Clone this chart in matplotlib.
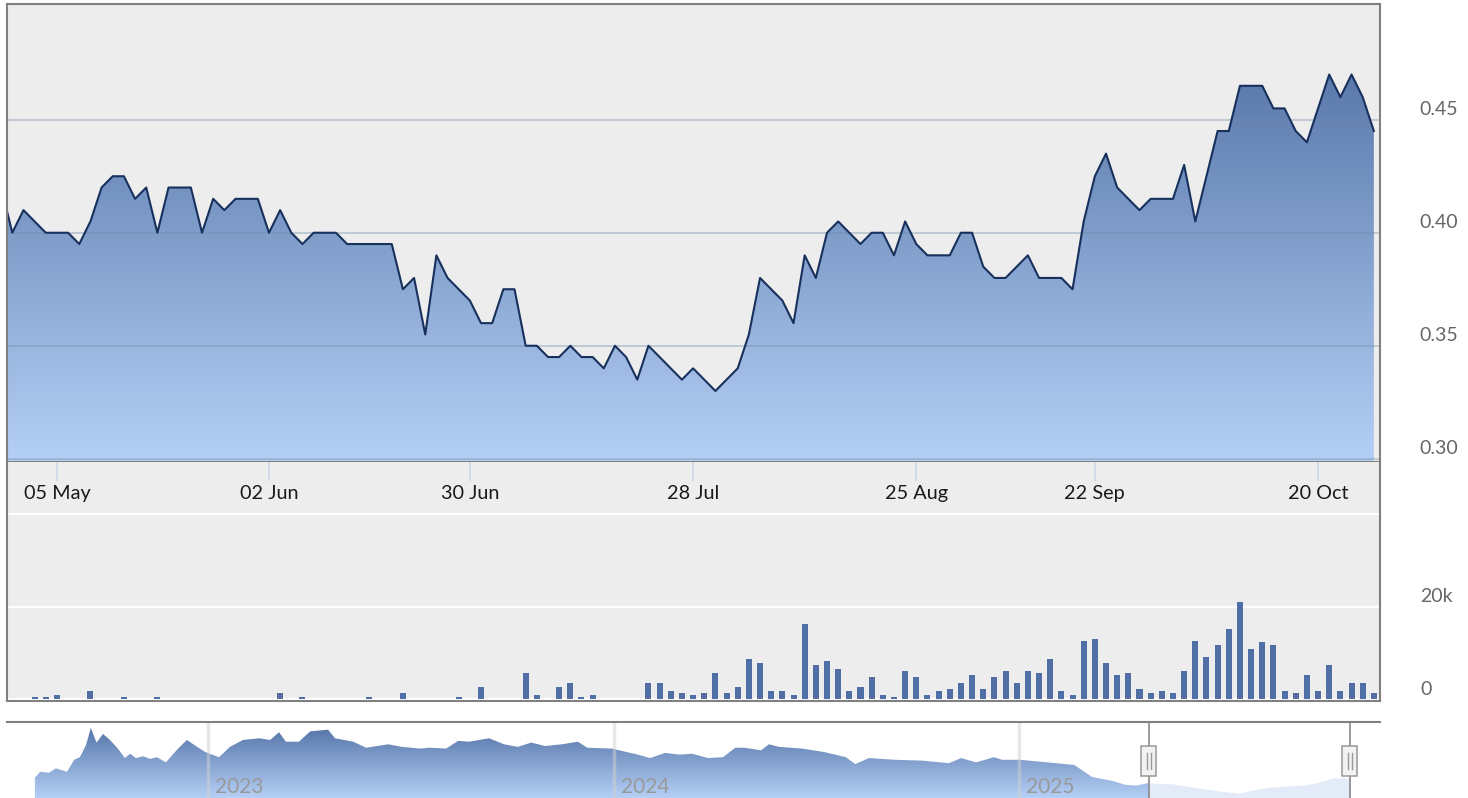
"""
Stock chart re-draw: price area (ordinal trading-day axis) + volume bars + navigator strip.
"""
import numpy as np
import matplotlib
matplotlib.use("Agg")
import matplotlib.pyplot as plt
from matplotlib.colors import LinearSegmentedColormap
from matplotlib.patches import PathPatch, Rectangle
from matplotlib.path import Path
from matplotlib.transforms import blended_transform_factory, offset_copy

plt.rcParams["font.family"] = ["Lato", "DejaVu Sans"]

W, H, DPI = 1468, 798, 100

# ── price, one value per trading day; first value sits just left of the visible range ──
price = [0.42,
         0.40, 0.41, 0.405, 0.40, 0.40, 0.40, 0.395, 0.405, 0.42, 0.425,
         0.425, 0.415, 0.42, 0.40, 0.42, 0.42, 0.42, 0.40, 0.415, 0.41,
         0.415, 0.415, 0.415, 0.40, 0.41, 0.40, 0.395, 0.40, 0.40, 0.40,
         0.395, 0.395, 0.395, 0.395, 0.395, 0.375, 0.38, 0.355, 0.39, 0.38,
         0.375, 0.37, 0.36, 0.36, 0.375, 0.375, 0.35, 0.35, 0.345, 0.345,
         0.35, 0.345, 0.345, 0.34, 0.35, 0.345, 0.335, 0.35, 0.345, 0.34,
         0.335, 0.34, 0.335, 0.33, 0.335, 0.34, 0.355, 0.38, 0.375, 0.37,
         0.36, 0.39, 0.38, 0.40, 0.405, 0.40, 0.395, 0.40, 0.40, 0.39,
         0.405, 0.395, 0.39, 0.39, 0.39, 0.40, 0.40, 0.385, 0.38, 0.38,
         0.385, 0.39, 0.38, 0.38, 0.38, 0.375, 0.405, 0.425, 0.435, 0.42,
         0.415, 0.41, 0.415, 0.415, 0.415, 0.43, 0.405, 0.425, 0.445, 0.445,
         0.465, 0.465, 0.465, 0.455, 0.455, 0.445, 0.44, 0.455, 0.47, 0.46,
         0.47, 0.46, 0.445]
price_day = np.arange(-1, len(price) - 1)

# volume in thousands, trading days 0..122
vol_k = [0, 0, 0.4, 0.4, 0.9, 0, 0, 1.75, 0, 0,
         0.4, 0, 0, 0.4, 0, 0, 0, 0, 0, 0,
         0, 0, 0, 0, 1.3, 0, 0.4, 0, 0, 0,
         0, 0, 0.4, 0, 0, 1.3, 0, 0, 0, 0,
         0.4, 0, 2.6, 0, 0, 0, 5.7, 0.9, 0, 2.6,
         3.5, 0.4, 0.9, 0, 0, 0, 0, 3.5, 3.5, 1.75,
         1.3, 0.9, 1.3, 5.7, 1.3, 2.6, 8.75, 7.9, 1.75, 1.75,
         0.9, 16.2, 7.45, 8.3, 6.6, 1.75, 2.6, 4.8, 0.9, 0.4,
         6.1, 4.8, 0.9, 1.75, 2.2, 3.5, 5.3, 2.2, 4.8, 6.1,
         3.5, 6.1, 5.7, 8.75, 1.75, 0.9, 12.7, 13.1, 7.9, 5.3,
         5.7, 2.2, 1.3, 1.75, 1.3, 6.1, 12.7, 9.2, 11.8, 15.3,
         21.0, 10.9, 12.3, 11.8, 1.75, 1.3, 5.3, 1.75, 7.45, 1.75,
         3.5, 3.5, 1.3]
vol_day = np.arange(len(vol_k))

date_tick_day = [4, 23, 41, 61, 81, 97, 117]
date_tick_lab = ["05 May", "02 Jun", "30 Jun", "28 Jul", "25 Aug", "22 Sep", "20 Oct"]
price_ticks = [0.30, 0.35, 0.40, 0.45]
vol_grid = [0, 20, 40]
vol_ticks = [0, 20]
vol_tick_lab = ["0", "20k"]

# navigator: full history (decimal year, price)
nav_t = [2022.573, 2022.586, 2022.608, 2022.625, 2022.652, 2022.670, 2022.684, 2022.699, 2022.711, 2022.725,
         2022.741, 2022.756, 2022.776, 2022.795, 2022.808, 2022.822, 2022.840, 2022.857, 2022.874, 2022.896,
         2022.928, 2022.948, 2022.970, 2022.993, 2023.027, 2023.054, 2023.086, 2023.126, 2023.153, 2023.175,
         2023.192, 2023.224, 2023.252, 2023.296, 2023.313, 2023.358, 2023.390, 2023.444, 2023.478, 2023.523,
         2023.545, 2023.587, 2023.617, 2023.644, 2023.693, 2023.730, 2023.764, 2023.797, 2023.831, 2023.873,
         2023.912, 2023.935, 2023.996, 2024.023, 2024.060, 2024.090, 2024.127, 2024.162, 2024.194, 2024.233,
         2024.270, 2024.300, 2024.322, 2024.364, 2024.383, 2024.408, 2024.465, 2024.519, 2024.573, 2024.596,
         2024.630, 2024.694, 2024.761, 2024.827, 2024.857, 2024.894, 2024.938, 2024.958, 2025.002, 2025.069,
         2025.136, 2025.180, 2025.234, 2025.261, 2025.289, 2025.320, 2025.377, 2025.432, 2025.488, 2025.543,
         2025.575, 2025.619, 2025.708, 2025.730, 2025.774, 2025.806, 2025.816]
nav_v = [0.46, 0.53, 0.52, 0.57, 0.53, 0.67, 0.70, 0.84, 1.04, 0.87,
         0.97, 0.91, 0.81, 0.69, 0.74, 0.69, 0.71, 0.68, 0.70, 0.64,
         0.81, 0.90, 0.83, 0.76, 0.70, 0.82, 0.90, 0.92, 0.90, 0.99,
         0.88, 0.88, 1.00, 1.02, 0.92, 0.88, 0.81, 0.85, 0.82, 0.80,
         0.81, 0.80, 0.89, 0.88, 0.92, 0.85, 0.82, 0.87, 0.83, 0.85,
         0.88, 0.81, 0.80, 0.77, 0.73, 0.69, 0.75, 0.73, 0.74, 0.69,
         0.70, 0.81, 0.81, 0.78, 0.85, 0.82, 0.80, 0.76, 0.70, 0.62,
         0.69, 0.67, 0.66, 0.63, 0.69, 0.64, 0.70, 0.67, 0.67, 0.64,
         0.61, 0.47, 0.42, 0.38, 0.37, 0.40, 0.39, 0.35, 0.31, 0.28,
         0.32, 0.35, 0.38, 0.40, 0.46, 0.46, 0.45]
year_marks = [2023, 2024, 2025]
sel_range = (2025.320, 2025.816)

FRAME = "#808080"
BG = "#ededed"
FILL_TOP, FILL_BOT = "#4a6a9e", "#b5d0f6"


def px_axes(fig, x0, y0, x1, y1):
    return fig.add_axes([x0 / W, 1 - y1 / H, (x1 - x0) / W, (y1 - y0) / H])


def gradient_area(ax, x, y, base, c_top, c_bot, z=1):
    x = np.asarray(x, float); y = np.asarray(y, float)
    verts = np.concatenate([np.column_stack([x, y]), [[x[-1], base], [x[0], base], [x[0], y[0]]]])
    patch = PathPatch(Path(verts), facecolor="none", edgecolor="none")
    ax.add_patch(patch)
    x0, x1 = ax.get_xlim(); y0, y1 = ax.get_ylim()
    cmap = LinearSegmentedColormap.from_list("fill", [c_bot, c_top])
    im = ax.imshow(np.linspace(0, 1, 256).reshape(-1, 1), cmap=cmap, origin="lower",
                   aspect="auto", extent=(x0, x1, y0, y1), zorder=z, interpolation="bilinear")
    im.set_clip_path(patch)
    ax.set_xlim(x0, x1); ax.set_ylim(y0, y1)


fig = plt.figure(figsize=(W / DPI, H / DPI), dpi=DPI, facecolor="white")

# ── price pane ──
ax = px_axes(fig, 6.5, 4, 1380, 461.7)
ax.set_facecolor(BG)
ax.set_xlim(-0.52, 122.55); ax.set_ylim(0.2987, 0.5012)
gradient_area(ax, price_day, price, 0.2987, FILL_TOP, FILL_BOT, z=1)
for v in price_ticks:
    ax.axhline(v, color="#6b8aa6", alpha=0.45, lw=1.1, zorder=2)
ax.plot(price_day, price, color="#17305c", lw=1.5, zorder=3)
ax.set_xticks([]); ax.set_yticks([])
for s in ax.spines.values():
    s.set_color(FRAME); s.set_linewidth(1.5); s.set_zorder(5)
ptrans = offset_copy(blended_transform_factory(ax.transAxes, ax.transData), fig=fig, y=4.5, units="dots")
for v in price_ticks:
    ax.text(1.0284, v, f"{v:.2f}", transform=ptrans, ha="left", va="baseline",
            fontsize=14, color="#666666")

# ── volume pane (also carries the date labels) ──
axv = px_axes(fig, 6.5, 461.7, 1380, 701)
axv.set_facecolor(BG)
axv.set_xlim(-0.52, 122.55); axv.set_ylim(-0.37, 51.37)
for v in vol_grid:
    axv.axhline(v, color="white", lw=1.6, zorder=1)
axv.bar(vol_day, vol_k, width=0.54, color="#5070a5", zorder=2)
axv.set_yticks([])
axv.set_xticks(date_tick_day)
axv.tick_params(axis="x", top=True, bottom=False, direction="in", length=13.7, width=1.1,
                color="#ccd6eb", labelbottom=False, labeltop=False)
axv.spines["top"].set_visible(False)
for k in ("left", "right", "bottom"):
    axv.spines[k].set_color(FRAME); axv.spines[k].set_linewidth(1.5)
dtrans = blended_transform_factory(axv.transData, axv.transAxes)
for d, lab in zip(date_tick_day, date_tick_lab):
    axv.text(d, (701 - 499) / (701 - 461.7), lab, transform=dtrans, ha="center", va="baseline",
             fontsize=14.3, color="#1a1a1a")
vtrans = offset_copy(blended_transform_factory(axv.transAxes, axv.transData), fig=fig, y=4.7, units="dots")
for v, lab in zip(vol_ticks, vol_tick_lab):
    axv.text(1.0291, v, lab, transform=vtrans, ha="left", va="baseline", fontsize=14, color="#666666")

# ── navigator ──
axn = px_axes(fig, 6.5, 721.5, 1380, 798)
axn.set_facecolor("white")
axn.set_xlim(2022.503, 2025.890); axn.set_ylim(0.2256, 1.115)
nav_t = np.asarray(nav_t); nav_v = np.asarray(nav_v)
cut = int(np.searchsorted(nav_t, sel_range[0]))
gradient_area(axn, nav_t[:cut + 1], nav_v[:cut + 1], 0.2256, "#4d6da2", FILL_BOT, z=1)
axn.fill_between(nav_t[cut:], nav_v[cut:], 0.2256, color="#e3ebf8", lw=0, zorder=1)
ntrans = blended_transform_factory(axn.transData, axn.transAxes)
for yr in year_marks:
    axn.axvline(yr, color="#d0d0d0", alpha=0.5, lw=2.5, zorder=2)
    axn.text(yr, (798 - 793.3) / 76.5, str(yr),
             transform=offset_copy(ntrans, fig=fig, x=7, units="dots"),
             ha="left", va="baseline", fontsize=15, color="#999999", zorder=3)
hw = 15 / 405.5
for t in sel_range:
    axn.axvline(t, color=FRAME, lw=1.1, zorder=4)
    axn.add_patch(Rectangle((t - hw / 2, 0.288), hw, 0.392, transform=ntrans,
                            facecolor="#f2f2f2", edgecolor="#999999", lw=1.1, zorder=5))
    for dx in (-0.0055, 0.0055):
        axn.plot([t + dx, t + dx], [0.38, 0.59], transform=ntrans, color="#999999", lw=1.0, zorder=6)
axn.set_xticks([]); axn.set_yticks([])
for k in ("left", "right", "bottom"):
    axn.spines[k].set_visible(False)
axn.spines["top"].set_color(FRAME); axn.spines["top"].set_linewidth(1.5)

fig.savefig("out.png", dpi=DPI, facecolor="white")
plt.close(fig)
